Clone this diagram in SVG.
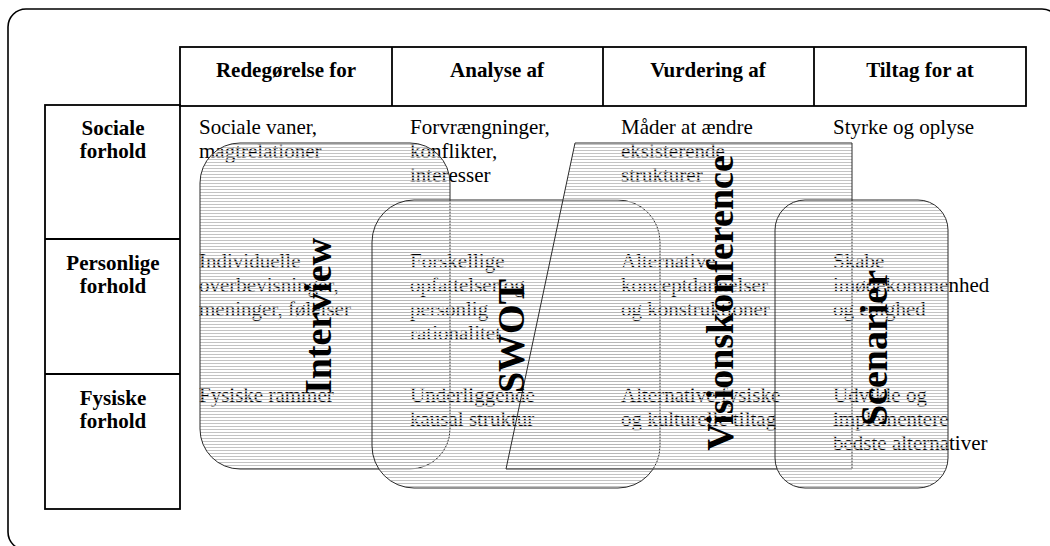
<svg xmlns="http://www.w3.org/2000/svg" width="1050" height="546" viewBox="0 0 1050 546">
  <defs>
    <!-- fine horizontal line shading used for the method areas -->
    <pattern id="hatch" patternUnits="userSpaceOnUse" width="8" height="3">
      <rect x="0" y="0" width="8" height="1" fill="#b4b4b4" fill-opacity="0.8"/>
      <rect x="0" y="1" width="8" height="1" fill="#ffffff" fill-opacity="0.55"/>
    </pattern>
    <style>
      .frame { fill: #ffffff; stroke: #000; stroke-width: 1.6; }
      .cell { fill: none; stroke: #000; stroke-width: 1.8; }
      .head { font-family: "Liberation Serif", "Times New Roman", serif; font-size: 21px; font-weight: bold; fill: #000; text-anchor: middle; }
      .body { font-family: "Liberation Serif", "Times New Roman", serif; font-size: 21px; fill: #000; }
      .area { fill: url(#hatch); stroke: #2a2a2a; stroke-width: 1; }
      .label { font-family: "Liberation Serif", "Times New Roman", serif; font-size: 38px; font-weight: bold; fill: #000; text-anchor: middle; }
    </style>
  </defs>

  <!-- outer frame -->
  <rect class="frame" x="8" y="9" width="1052" height="541" rx="18" ry="18"/>

  <!-- column headings -->
  <g id="header">
    <rect class="cell" x="180" y="47" width="846" height="59"/>
    <line class="cell" x1="392" y1="47" x2="392" y2="106"/>
    <line class="cell" x1="603" y1="47" x2="603" y2="106"/>
    <line class="cell" x1="814" y1="47" x2="814" y2="106"/>
    <text class="head" x="286" y="77">Redegørelse for</text>
    <text class="head" x="497" y="77">Analyse af</text>
    <text class="head" x="708" y="77">Vurdering af</text>
    <text class="head" x="920" y="77">Tiltag for at</text>
  </g>

  <!-- row headings -->
  <g id="rows">
    <rect class="cell" x="45" y="105" width="135" height="404"/>
    <line class="cell" x1="45" y1="239" x2="180" y2="239"/>
    <line class="cell" x1="45" y1="374" x2="180" y2="374"/>
    <text class="head" x="113" y="135">Sociale</text>
    <text class="head" x="113" y="158">forhold</text>
    <text class="head" x="113" y="270">Personlige</text>
    <text class="head" x="113" y="293">forhold</text>
    <text class="head" x="113" y="405">Fysiske</text>
    <text class="head" x="113" y="428">forhold</text>
  </g>

  <!-- cell contents -->
  <g id="cells" class="body">
    <text x="199" y="134">Sociale vaner,</text>
    <text x="199" y="158">magtrelationer</text>

    <text x="410" y="134">Forvrængninger,</text>
    <text x="410" y="158">konflikter,</text>
    <text x="410" y="182">interesser</text>

    <text x="621" y="134">Måder at ændre</text>
    <text x="621" y="158">eksisterende</text>
    <text x="621" y="182">strukturer</text>

    <text x="833" y="134">Styrke og oplyse</text>

    <text x="199" y="268">Individuelle</text>
    <text x="199" y="292">overbevisninger,</text>
    <text x="199" y="316">meninger, følelser</text>

    <text x="410" y="268">Forskellige</text>
    <text x="410" y="292">opfattelser og</text>
    <text x="410" y="316">personlig</text>
    <text x="410" y="340">rationalitet</text>

    <text x="621" y="268">Alternative</text>
    <text x="621" y="292">konceptdannelser</text>
    <text x="621" y="316">og konstruktioner</text>

    <text x="833" y="268">Skabe</text>
    <text x="833" y="292">imødekommenhed</text>
    <text x="833" y="316">og enighed</text>

    <text x="199" y="402">Fysiske rammer</text>

    <text x="410" y="402">Underliggende</text>
    <text x="410" y="426">kausal struktur</text>

    <text x="621" y="402">Alternative fysiske</text>
    <text x="621" y="426">og kulturelle tiltag</text>

    <text x="833" y="402">Udvikle og</text>
    <text x="833" y="426">implementere</text>
    <text x="833" y="450">bedste alternativer</text>
  </g>

  <!-- method areas -->
  <g id="interview">
    <rect class="area" x="200" y="143" width="250" height="326" rx="40" ry="40"/>
  </g>
  <g id="swot">
    <rect class="area" x="372" y="200" width="288" height="288" rx="42" ry="42"/>
  </g>
  <g id="visionskonference">
    <polygon class="area" points="575,143 852,143 852,469 506,469"/>
  </g>
  <g id="scenarier">
    <rect class="area" x="775" y="200" width="173" height="288" rx="30" ry="30"/>
  </g>

  <!-- method names -->
  <g id="labels">
    <text class="label" transform="translate(331,316) rotate(-90)">Interview</text>
    <text class="label" transform="translate(524,336) rotate(-90)">SWOT</text>
    <text class="label" transform="translate(733,303) rotate(-90)">Visionskonference</text>
    <text class="label" transform="translate(887,348) rotate(-90)">Scenarier</text>
  </g>
</svg>
